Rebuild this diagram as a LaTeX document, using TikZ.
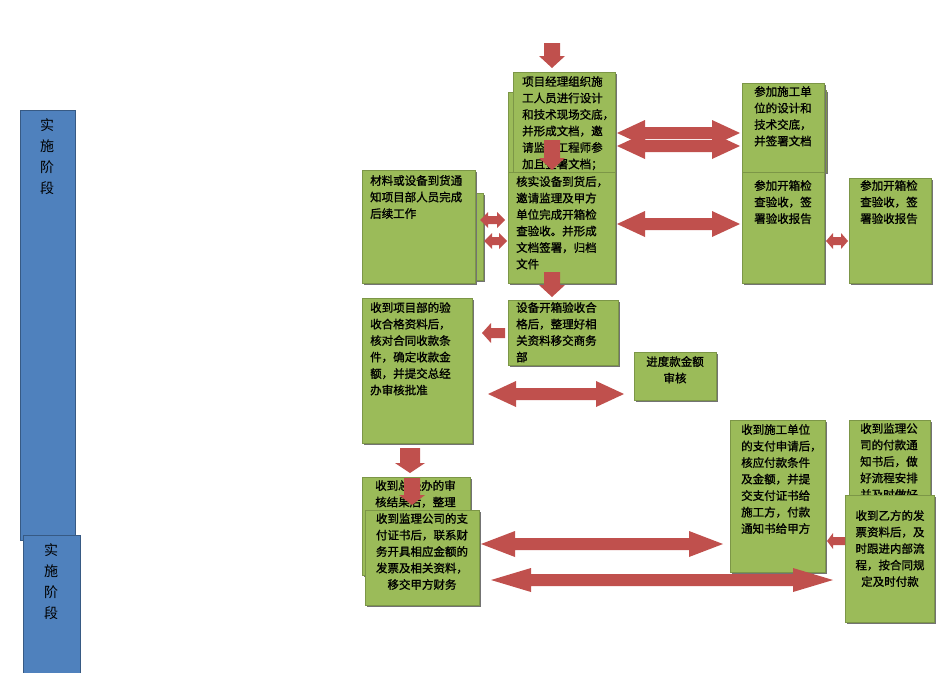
\documentclass[tikz,border=0pt]{standalone}
\usepackage{fontspec}
\setmainfont{Noto Sans CJK SC}[AutoFakeBold=1.2]
\definecolor{gr}{HTML}{9BBB59}
\definecolor{rd}{HTML}{C0504D}
\definecolor{bl}{HTML}{4F81BD}
\usetikzlibrary{shadows}
\tikzset{
 gbox/.style={fill=gr,draw=gr!80!black,line width=0.6pt,drop shadow={shadow xshift=2pt,shadow yshift=-2pt,fill=black!55,opacity=1},inner sep=0},
 gtxt/.style={font=\fontsize{11.5}{16.5}\selectfont\bfseries,align=left,anchor=north west,inner sep=0},
 arr/.style={fill=rd,draw=none},
}
\newcommand{\gb}[6]{\node[gbox,anchor=north west,minimum width=#4-#2,minimum height=#5-#3] (#1) at (#2,#3) {};}
\newcommand{\hda}[6]{\fill[arr] (#1,#3) -- (#1+#6,#3-#5) -- (#1+#6,#3-#4) -- (#2-#6,#3-#4) -- (#2-#6,#3-#5) -- (#2,#3) -- (#2-#6,#3+#5) -- (#2-#6,#3+#4) -- (#1+#6,#3+#4) -- (#1+#6,#3+#5) -- cycle;}
\newcommand{\hla}[6]{\fill[arr] (#1,#3) -- (#1+#6,#3-#5) -- (#1+#6,#3-#4) -- (#2,#3-#4) -- (#2,#3+#4) -- (#1+#6,#3+#4) -- (#1+#6,#3+#5) -- cycle;}
\newcommand{\dna}[6]{\fill[arr] (#1,#3) -- (#1-#5,#3-#6) -- (#1-#4,#3-#6) -- (#1-#4,#2) -- (#1+#4,#2) -- (#1+#4,#3-#6) -- (#1+#5,#3-#6) -- cycle;}
\begin{document}
\begin{tikzpicture}[x=1pt,y=-1pt]
\useasboundingbox (0,0) rectangle (950,672);
\node[fill=bl,draw=bl!70!black,anchor=north west,minimum width=55,minimum height=430,inner sep=0] (bar1) at (20,110) {};
\node[font=\fontsize{14}{21}\selectfont,align=center,anchor=north] (bt1) at (47,115) {实\\施\\阶\\段};
\node[fill=bl,draw=bl!70!black,anchor=north west,minimum width=57,minimum height=140,inner sep=0] (bar2) at (23,535) {};
\node[font=\fontsize{14}{21}\selectfont,align=center,anchor=north] (bt2) at (51,540) {实\\施\\阶\\段};
\gb{Ab}{508}{92}{520}{172}{}
\gb{Cb}{380}{193}{483}{280}{}
\gb{Ib}{750}{90}{826}{172}{}
\gb{A}{513}{72}{615}{175}{}
\node[gtxt] (At) at (522,76) {项目经理组织施\\工人员进行设计\\和技术现场交底，\\并形成文档，邀\\请监理工程师参\\加且签署文档；};
\gb{B}{508}{172}{615}{283}{}
\node[gtxt] (Bt) at (516,176) {核实设备到货后，\\邀请监理及甲方\\单位完成开箱检\\查验收。并形成\\文档签署，归档\\文件};
\gb{C}{362}{170}{475}{283}{}
\node[gtxt] (Ct) at (370,175) {材料或设备到货通\\知项目部人员完成\\后续工作};
\gb{D}{362}{298}{472}{443}{}
\node[gtxt] (Dt) at (370,302) {收到项目部的验\\收合格资料后，\\核对合同收款条\\件，确定收款金\\额，并提交总经\\办审核批准};
\gb{E}{508}{300}{618}{365}{}
\node[gtxt] (Et) at (516,302) {设备开箱验收合\\格后，整理好相\\关资料移交商务\\部};
\gb{F}{634}{352}{716}{400}{}
\node[gtxt,align=center,anchor=north] (Ft) at (675,356) {进度款金额\\审核};
\gb{G}{362}{477}{470}{575}{}
\node[gtxt] (Gt) at (375,480) {收到总经办的审\\核结果后，整理};
\gb{H}{365}{510}{479}{605}{}
\node[gtxt,align=center,anchor=north] (Ht) at (422,513) {收到监理公司的支\\付证书后，联系财\\务开具相应金额的\\发票及相关资料，\\移交甲方财务};
\gb{I}{742}{83}{824}{172}{}
\node[gtxt] (It) at (754,86) {参加施工单\\位的设计和\\技术交底，\\并签署文档};
\gb{J}{742}{172}{824}{283}{}
\node[gtxt] (Jt) at (754,180) {参加开箱检\\查验收，签\\署验收报告};
\gb{K}{849}{178}{931}{283}{}
\node[gtxt] (Kt) at (860,180) {参加开箱检\\查验收，签\\署验收报告};
\gb{L}{730}{420}{825}{572}{}
\node[gtxt] (Lt) at (741,424) {收到施工单位\\的支付申请后，\\核应付款条件\\及金额，并提\\交支付证书给\\施工方，付款\\通知书给甲方};
\gb{M}{849}{420}{930}{505}{}
\begin{scope}
\clip (849,420) rectangle (930,496);
\node[gtxt] (Mt) at (860,423) {收到监理公\\司的付款通\\知书后，做\\好流程安排\\并及时做好\\相应资金安};
\end{scope}
\gb{N}{845}{495}{934}{622}{}
\node[gtxt,align=center,anchor=north] (Nt) at (890,510) {收到乙方的发\\票资料后，及\\时跟进内部流\\程，按合同规\\定及时付款};
\dna{552}{43}{68}{8}{13}{12}
\dna{552}{140}{170}{8}{13}{12}
\dna{552}{272}{297}{8}{13}{12}
\dna{410}{448}{473}{10}{15}{10}
\dna{412}{478}{505}{8}{13}{10}
\hda{617}{740}{133}{6}{13}{28}
\hda{617}{740}{146}{6}{13}{28}
\hda{617}{740}{224}{6}{13}{28}
\hda{480}{505}{220}{4}{8}{8}
\hda{484}{507}{241}{4}{8}{8}
\hla{482}{505}{333}{5}{10}{9}
\hda{488}{624}{394}{6}{13}{28}
\hda{481}{723}{544}{6}{13}{34}
\hda{491}{833}{580}{6}{12}{40}
\hda{826}{848}{241}{4}{8}{7}
\hla{827}{845}{541}{4}{8}{6}
\end{tikzpicture}
\end{document}
